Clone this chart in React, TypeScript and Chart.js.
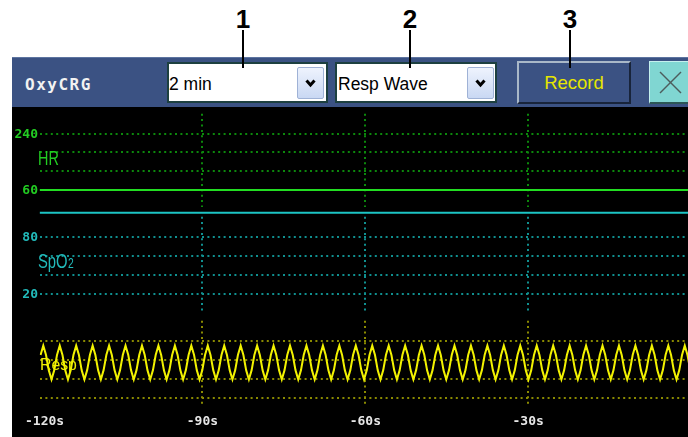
import React, { useEffect, useRef } from 'react';
import { Chart, registerables } from 'chart.js';

Chart.register(...registerables);

// ---------------- data ----------------
const timeTicks = [-120, -90, -60, -30];
const timeTickLabels = ['-120s', '-90s', '-60s', '-30s'];
const timeGridLines = [-90, -60, -30];

const hrTicks = [240, 180, 120, 60];
const hrTickLabels = ['240', '', '', '60'];
const hrTimes = [-120, 0];
const hrValues = [60, 60];

const spo2Ticks = [80, 60, 40, 20];
const spo2TickLabels = ['80', '', '', '20'];
const spo2Times = [-120, 0];
const spo2Values = [105, 105];

const respTicks = [3, 2, 1, 0];
const respStart = -119.825;
const respStep = 0.505;
const respValues = [
  2.25,
  2.74, 2.25, 1.45, 0.96, 1.45, 2.25,
  2.74, 2.25, 1.45, 0.96, 1.45, 2.25,
  2.74, 2.25, 1.45, 0.96, 1.45, 2.25,
  2.74, 2.25, 1.45, 0.96, 1.45, 2.25,
  2.74, 2.25, 1.45, 0.96, 1.45, 2.25,
  2.74, 2.25, 1.45, 0.96, 1.45, 2.25,
  2.74, 2.25, 1.45, 0.96, 1.45, 2.25,
  2.74, 2.25, 1.45, 0.96, 1.45, 2.25,
  2.74, 2.25, 1.45, 0.96, 1.45, 2.25,
  2.74, 2.25, 1.45, 0.96, 1.45, 2.25,
  2.74, 2.25, 1.45, 0.96, 1.45, 2.25,
  2.74, 2.25, 1.45, 0.96, 1.45, 2.25,
  2.74, 2.25, 1.45, 0.96, 1.45, 2.25,
  2.74, 2.25, 1.45, 0.96, 1.45, 2.25,
  2.74, 2.25, 1.45, 0.96, 1.45, 2.25,
  2.74, 2.25, 1.45, 0.96, 1.45, 2.25,
  2.74, 2.25, 1.45, 0.96, 1.45, 2.25,
  2.74, 2.25, 1.45, 0.96, 1.45, 2.25,
  2.74, 2.25, 1.45, 0.96, 1.45, 2.25,
  2.74, 2.25, 1.45, 0.96, 1.45, 2.25,
  2.74, 2.25, 1.45, 0.96, 1.45, 2.25,
  2.74, 2.25, 1.45, 0.96, 1.45, 2.25,
  2.74, 2.25, 1.45, 0.96, 1.45, 2.25,
  2.74, 2.25, 1.45, 0.96, 1.45, 2.25,
  2.74, 2.25, 1.45, 0.96, 1.45, 2.25,
  2.74, 2.25, 1.45, 0.96, 1.45, 2.25,
  2.74, 2.25, 1.45, 0.96, 1.45, 2.25,
  2.74, 2.25, 1.45, 0.96, 1.45, 2.25,
  2.74, 2.25, 1.45, 0.96, 1.45, 2.25,
  2.74, 2.25, 1.45, 0.96, 1.45, 2.25,
  2.74, 2.25, 1.45, 0.96, 1.45, 2.25,
  2.74, 2.25, 1.45, 0.96, 1.45, 2.25,
  2.74, 2.25, 1.45, 0.96, 1.45, 2.25,
  2.74, 2.25, 1.45, 0.96, 1.45, 2.25,
  2.74, 2.25, 1.45, 0.96, 1.45, 2.25,
  2.74, 2.25, 1.45, 0.96, 1.45, 2.25,
  2.74, 2.25, 1.45, 0.96, 1.45, 2.25,
  2.74, 2.25, 1.45, 0.96, 1.45, 2.25,
  2.74, 2.25, 1.45, 0.96, 1.45, 2.25,
  2.74, 2.25, 1.45,
];

const headerTitle = 'OxyCRG';
const rangeOption = '2 min';
const waveOption = 'Resp Wave';
const recordLabel = 'Record';
const calloutNumbers = ['1', '2', '3'];

// ---------------- styles ----------------
const HR_LINE = '#22dd22';
const HR_GRID = '#0c880c';
const HR_TEXT = '#22cc22';
const SPO2_LINE = '#1cc4c4';
const SPO2_GRID = '#109090';
const SPO2_TEXT = '#22baba';
const RESP_LINE = '#f2f200';
const RESP_GRID = '#8a8a00';
const RESP_TEXT = '#eeee00';
const AXIS_TEXT = '#e6e6e6';

const CANVAS_W = 679;
const CANVAS_H = 330;
const AREA_TOP = 3;
const AREA_BOTTOM = 303;

// range of a linear axis so that value a sits at pixel pa and value b at pixel pb
function rangeFor(a: number, pa: number, b: number, pb: number) {
  const upp = (a - b) / (pb - pa);
  return { max: a + (pa - AREA_TOP) * upp, min: b - (AREA_BOTTOM - pb) * upp };
}

const hrRange = rangeFor(240, 26.7, 60, 83.0);
const spo2Range = rangeFor(80, 129.7, 20, 187.3);
const respRange = rangeFor(3, 233.7, 0, 290.7);

const sections = [
  { id: 'yHR', ticks: hrTicks, labels: hrTickLabels, grid: HR_GRID, text: HR_TEXT, top: -20, bottom: 17 },
  { id: 'ySpO2', ticks: spo2Ticks, labels: spo2TickLabels, grid: SPO2_GRID, text: SPO2_TEXT, top: -20, bottom: 17 },
  { id: 'yResp', ticks: respTicks, labels: ['', '', '', ''], grid: RESP_GRID, text: RESP_TEXT, top: -20, bottom: 7 },
];

function drawScaled(ctx: CanvasRenderingContext2D, text: string, x: number, y: number, font: string, color: string, sx: number) {
  ctx.save();
  ctx.font = font;
  ctx.fillStyle = color;
  ctx.textAlign = 'left';
  ctx.textBaseline = 'alphabetic';
  ctx.translate(x, y);
  ctx.scale(sx, 1);
  ctx.fillText(text, 0, 0);
  const w = ctx.measureText(text).width * sx;
  ctx.restore();
  return w;
}

const overlayPlugin = {
  id: 'monitorOverlay',
  beforeDatasetsDraw(chart: any) {
    const ctx: CanvasRenderingContext2D = chart.ctx;
    const xs = chart.scales.x;
    ctx.save();
    // per-section vertical dotted lines
    ctx.lineWidth = 2;
    ctx.setLineDash([2, 3.4]);
    for (const s of sections) {
      const sc = chart.scales[s.id];
      const y0 = sc.getPixelForValue(s.ticks[0]) + s.top;
      const y1 = sc.getPixelForValue(s.ticks[s.ticks.length - 1]) + s.bottom;
      ctx.strokeStyle = s.grid;
      for (const v of timeGridLines) {
        const px = Math.round(xs.getPixelForValue(v));
        ctx.beginPath();
        ctx.moveTo(px, y0);
        ctx.lineTo(px, y1);
        ctx.stroke();
      }
    }
    ctx.setLineDash([]);

    // y tick labels
    ctx.font = 'bold 13px "DejaVu Sans Mono", monospace';
    ctx.textAlign = 'right';
    ctx.textBaseline = 'middle';
    const labelRight = chart.chartArea.left - 1.6;
    for (const s of sections) {
      const sc = chart.scales[s.id];
      ctx.fillStyle = s.text;
      s.ticks.forEach((v, i) => {
        if (s.labels[i]) ctx.fillText(s.labels[i], labelRight, sc.getPixelForValue(v) + 0.5);
      });
    }

    // section names
    const nameX = chart.chartArea.left - 1.6;
    const yHR = chart.scales.yHR;
    const ySp = chart.scales.ySpO2;
    const yRe = chart.scales.yResp;
    drawScaled(ctx, 'HR', nameX, yHR.getPixelForValue(hrTicks[0]) + 31, '20px "Liberation Sans", Arial, sans-serif', HR_TEXT, 0.72);
    const w = drawScaled(ctx, 'SpO', nameX, ySp.getPixelForValue(spo2Ticks[0]) + 31, '20px "Liberation Sans", Arial, sans-serif', SPO2_TEXT, 0.74);
    drawScaled(ctx, '2', nameX + w + 0.5, ySp.getPixelForValue(spo2Ticks[0]) + 31, '14px "Liberation Sans", Arial, sans-serif', SPO2_TEXT, 0.74);
    drawScaled(ctx, 'Resp', nameX + 2, yRe.getPixelForValue(respTicks[0]) + 29.3, '17px "Liberation Sans", Arial, sans-serif', RESP_TEXT, 0.93);

    // x tick labels
    ctx.font = 'bold 13px "DejaVu Sans Mono", monospace';
    ctx.textAlign = 'left';
    ctx.textBaseline = 'middle';
    ctx.fillStyle = AXIS_TEXT;
    timeTicks.forEach((v, i) => {
      const t = timeTickLabels[i];
      const tw = ctx.measureText(t).width;
      const left = Math.max(13, xs.getPixelForValue(v) - tw / 2);
      ctx.fillText(t, left, 314.5);
    });
    ctx.restore();
  },
};

function yAxis(range: { min: number; max: number }, ticks: number[], color: string) {
  return {
    type: 'linear' as const,
    position: 'left' as const,
    min: range.min,
    max: range.max,
    afterBuildTicks: (s: any) => {
      s.ticks = ticks.map((v) => ({ value: v }));
    },
    afterFit: (s: any) => {
      s.width = 0;
    },
    grid: { color, lineWidth: 2, drawTicks: false },
    border: { display: false, dash: [2, 3.4] },
    ticks: { display: false },
  };
}

function MonitorChart() {
  const ref = useRef<HTMLCanvasElement | null>(null);
  useEffect(() => {
    if (!ref.current) return;
    const respPoints = respValues.map((v, i) => ({ x: respStart + i * respStep, y: v }));
    const chart = new Chart(ref.current, {
      type: 'line',
      data: {
        datasets: [
          {
            label: 'HR',
            data: hrTimes.map((t, i) => ({ x: t, y: hrValues[i] })),
            xAxisID: 'x',
            yAxisID: 'yHR',
            borderColor: HR_LINE,
            borderWidth: 2,
            pointRadius: 0,
          },
          {
            label: 'SpO2',
            data: spo2Times.map((t, i) => ({ x: t, y: spo2Values[i] })),
            xAxisID: 'x',
            yAxisID: 'ySpO2',
            borderColor: SPO2_LINE,
            borderWidth: 2,
            pointRadius: 0,
          },
          {
            label: 'Resp',
            data: respPoints,
            xAxisID: 'x',
            yAxisID: 'yResp',
            borderColor: RESP_LINE,
            borderWidth: 2,
            pointRadius: 0,
            tension: 0,
          },
        ],
      },
      options: {
        animation: false,
        responsive: false,
        maintainAspectRatio: false,
        layout: { padding: { left: 27.6, right: 0, top: AREA_TOP, bottom: CANVAS_H - AREA_BOTTOM } },
        plugins: { legend: { display: false }, tooltip: { enabled: false } },
        scales: {
          x: {
            type: 'linear',
            min: -120,
            max: 0,
            grid: { display: false },
            border: { display: false },
            ticks: { display: false },
            afterFit: (s: any) => {
              s.height = 0;
            },
          },
          yHR: yAxis(hrRange, hrTicks, HR_GRID),
          ySpO2: yAxis(spo2Range, spo2Ticks, SPO2_GRID),
          yResp: yAxis(respRange, respTicks, RESP_GRID),
        } as any,
      },
      plugins: [overlayPlugin],
    });
    return () => chart.destroy();
  }, []);
  return (
    <canvas
      ref={ref}
      width={CANVAS_W}
      height={CANVAS_H}
      style={{ position: 'absolute', left: 12, top: 107, width: CANVAS_W, height: CANVAS_H }}
    />
  );
}

const abs = (l: number, t: number, w: number, h: number, extra: any = {}) => ({
  position: 'absolute' as const,
  left: l,
  top: t,
  width: w,
  height: h,
  boxSizing: 'border-box' as const,
  ...extra,
});

function Chevron({ left, top }: { left: number; top: number }) {
  return (
    <div
      style={abs(left, top, 27, 32, {
        background: 'linear-gradient(#eef3fd, #c9d8f3)',
        border: '1px solid #9fb2d6',
        borderRadius: 2,
      })}
    >
      <svg width={25} height={30} style={{ position: 'absolute', left: 0, top: 0 }}>
        <polyline points="8.5,12.5 12.5,17 16.5,12.5" fill="none" stroke="#000" strokeWidth={3} />
      </svg>
    </div>
  );
}

export default function App() {
  const sansFont = '"Liberation Sans", Arial, sans-serif';
  const calloutX = [243, 410, 570];
  return (
    <div
      style={{
        position: 'fixed',
        left: 0,
        top: 0,
        width: 688,
        height: 437,
        overflow: 'hidden',
        background: '#fff',
      }}
    >
      {/* header bar */}
      <div style={abs(12, 57, 680, 50, { background: '#3b5283', borderTop: '1px solid #5d74a0' })} />
      <div
        style={abs(25, 77, 120, 16, {
          color: '#f2f2f2',
          font: 'bold 16px "DejaVu Sans Mono", monospace',
          lineHeight: '16px',
          letterSpacing: '1.5px',
          whiteSpace: 'nowrap',
        })}
      >
        {headerTitle}
      </div>
      {/* dropdown 1 */}
      <div style={abs(167, 62, 161, 41, { background: '#fff', border: '2px solid #1d4040' })} />
      <div
        style={abs(169, 76, 120, 18, {
          font: `17.5px ${sansFont}`,
          lineHeight: '17.5px',
          color: '#000',
          whiteSpace: 'nowrap',
        })}
      >
        {rangeOption}
      </div>
      <Chevron left={297} top={67} />
      {/* dropdown 2 */}
      <div style={abs(335, 62, 162, 41, { background: '#fff', border: '2px solid #1d4040' })} />
      <div
        style={abs(338, 76, 125, 18, {
          font: `17.5px ${sansFont}`,
          lineHeight: '17.5px',
          color: '#000',
          whiteSpace: 'nowrap',
        })}
      >
        {waveOption}
      </div>
      <Chevron left={467} top={67} />
      {/* record button */}
      <div
        style={abs(517, 61, 114, 43, {
          background: '#3b5283',
          borderTop: '2px solid #a9b8c8',
          borderLeft: '2px solid #a9b8c8',
          borderBottom: '2px solid #18243a',
          borderRight: '2px solid #18243a',
        })}
      />
      <div
        style={abs(517, 73.5, 114, 19, {
          font: `18.5px ${sansFont}`,
          lineHeight: '18.5px',
          color: '#e6e600',
          textAlign: 'center',
          whiteSpace: 'nowrap',
        })}
      >
        {recordLabel}
      </div>
      {/* close button */}
      <div
        style={abs(649, 61, 46, 43, {
          background: '#80d6d2',
          borderTop: '1px solid #c4f0ee',
          borderLeft: '1px solid #c4f0ee',
          borderBottom: '2px solid #2c5656',
        })}
      >
        <svg width={44} height={40} style={{ position: 'absolute', left: 0, top: 0 }}>
          <line x1={10} y1={10} x2={31} y2={31} stroke="#4d5c5c" strokeWidth={1.4} />
          <line x1={31} y1={10} x2={10} y2={31} stroke="#4d5c5c" strokeWidth={1.4} />
        </svg>
      </div>

      {/* chart area */}
      <div style={abs(12, 107, 680, 330, { background: '#000' })} />
      <MonitorChart />

      {/* callouts */}
      {calloutNumbers.map((n, i) => (
        <React.Fragment key={n}>
          <div
            style={abs(calloutX[i] - 15, 6, 30, 26, {
              font: `bold 26px ${sansFont}`,
              lineHeight: '26px',
              textAlign: 'center',
              color: '#000',
            })}
          >
            {n}
          </div>
          <div style={abs(calloutX[i] - 1, 30, 2, 38, { background: '#000' })} />
        </React.Fragment>
      ))}
    </div>
  );
}
